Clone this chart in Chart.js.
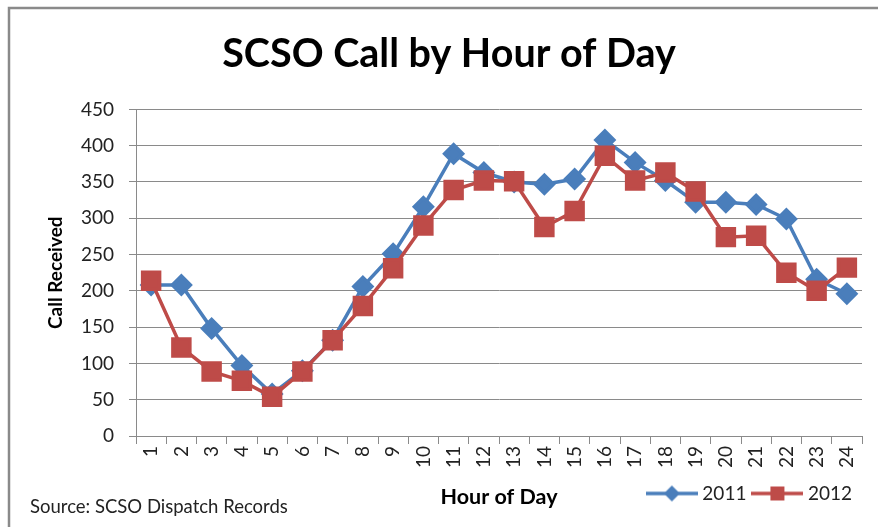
<!DOCTYPE html>
<html>
<head>
<meta charset="utf-8">
<script src="https://cdn.jsdelivr.net/npm/chart.js@4"></script>
<style>
  html, body { margin: 0; padding: 0; background: #fff; }
  #wrap { width: 878px; height: 527px; }
</style>
</head>
<body>
<div id="wrap"><canvas id="chart" width="878" height="527"></canvas></div>
<script>
const hours = ['1','2','3','4','5','6','7','8','9','10','11','12','13','14','15','16','17','18','19','20','21','22','23','24'];
const calls2011 = [208, 208, 148, 97, 58, 90, 132, 206, 251, 316, 389, 363, 350, 347, 354, 408, 377, 352, 322, 322, 319, 299, 216, 196];
const calls2012 = [214, 122, 89, 76, 54, 89, 132, 179, 231, 290, 339, 352, 351, 288, 310, 386, 352, 363, 337, 274, 276, 225, 200, 232];
const seriesNames = ['2011', '2012'];

const blue = 'rgb(74,126,187)';
const red = 'rgb(190,75,72)';
const font = 'Lato, "Open Sans", sans-serif';

// legend icons: line with marker in the middle
function legendIcon(color, square) {
    const c = document.createElement('canvas');
    c.width = 52; c.height = 20;
    const g = c.getContext('2d');
    g.strokeStyle = color;
    g.lineWidth = 3.5;
    g.beginPath(); g.moveTo(0, 10); g.lineTo(52, 10); g.stroke();
    g.fillStyle = color;
    g.beginPath();
    if (square) {
        g.rect(26 - 7, 3, 14, 14);
    } else {
        g.moveTo(26, 2); g.lineTo(34, 10); g.lineTo(26, 18); g.lineTo(18, 10);
    }
    g.fill();
    return c;
}
const icons = [legendIcon(blue, false), legendIcon(red, true)];

// frame and source note
const extras = {
    id: 'extras',
    beforeDraw(chart) {
        const g = chart.ctx;
        g.save();
        g.fillStyle = '#fff';
        g.fillRect(0, 0, chart.width, chart.height);
        g.strokeStyle = '#8a8a8a';
        g.lineWidth = 2.5;
        g.strokeRect(9, 8, 1000, 1000);
        g.restore();
    },
    afterDraw(chart) {
        const g = chart.ctx;
        g.save();
        g.fillStyle = '#222';
        g.font = '18.5px ' + font;
        g.textBaseline = 'middle';
        g.fillText('Source: SCSO Dispatch Records', 30, 507);
        g.restore();
    }
};

new Chart(document.getElementById('chart'), {
    type: 'line',
    data: {
        labels: hours,
        datasets: [
            {
                label: seriesNames[0],
                data: calls2011,
                borderColor: blue,
                backgroundColor: blue,
                borderWidth: 3.5,
                pointStyle: 'rectRot',
                pointRadius: 9,
                pointHoverRadius: 9,
                tension: 0,
                order: 1
            },
            {
                label: seriesNames[1],
                data: calls2012,
                borderColor: red,
                backgroundColor: red,
                borderWidth: 3.5,
                pointStyle: 'rect',
                pointRadius: 12,
                pointHoverRadius: 12,
                tension: 0,
                order: 0
            }
        ]
    },
    options: {
        responsive: false,
        animation: false,
        layout: { padding: { left: 36, right: 16, top: 0, bottom: 14 } },
        plugins: {
            title: {
                display: true,
                text: 'SCSO Call by Hour of Day',
                color: '#000',
                font: { family: font, size: 39.5, weight: 'bold' },
                padding: { top: 31, bottom: 31 }
            },
            legend: {
                position: 'bottom',
                align: 'end',
                labels: {
                    color: '#222',
                    font: { family: font, size: 19 },
                    usePointStyle: true,
                    pointStyleWidth: 42,
                    padding: 10,
                    generateLabels: function () {
                        return seriesNames.map((name, i) => ({
                            text: name,
                            pointStyle: icons[i],
                            fillStyle: 'transparent',
                            strokeStyle: 'transparent',
                            fontColor: '#222',
                            lineWidth: 0,
                            datasetIndex: i,
                            hidden: false
                        }));
                    }
                }
            },
            tooltip: { enabled: false }
        },
        scales: {
            x: {
                offset: true,
                afterFit: function (scale) { scale.height = 38; },
                grid: { drawOnChartArea: false, offset: true, tickLength: 8, color: '#8a8a8a' },
                border: { color: '#8a8a8a' },
                ticks: {
                    color: '#222',
                    font: { family: font, size: 19 },
                    minRotation: 90,
                    maxRotation: 90,
                    padding: 2,
                    autoSkip: false
                },
                title: {
                    display: true,
                    text: 'Hour of Day',
                    color: '#000',
                    font: { family: font, size: 21.5, weight: 'bold' },
                    padding: { top: 0, bottom: -36 }
                }
            },
            y: {
                min: 0,
                max: 450,
                afterFit: function (scale) { scale.width = 100; },
                grid: { color: '#8a8a8a', tickLength: 7 },
                border: { color: '#8a8a8a' },
                ticks: {
                    stepSize: 50,
                    color: '#222',
                    font: { family: font, size: 19 },
                    padding: 15
                },
                title: {
                    display: true,
                    text: 'Call Received',
                    color: '#000',
                    font: { family: font, size: 19, weight: 'bold' },
                    padding: { top: 8, bottom: 0 }
                }
            }
        }
    },
    plugins: [extras]
});
</script>
</body>
</html>
